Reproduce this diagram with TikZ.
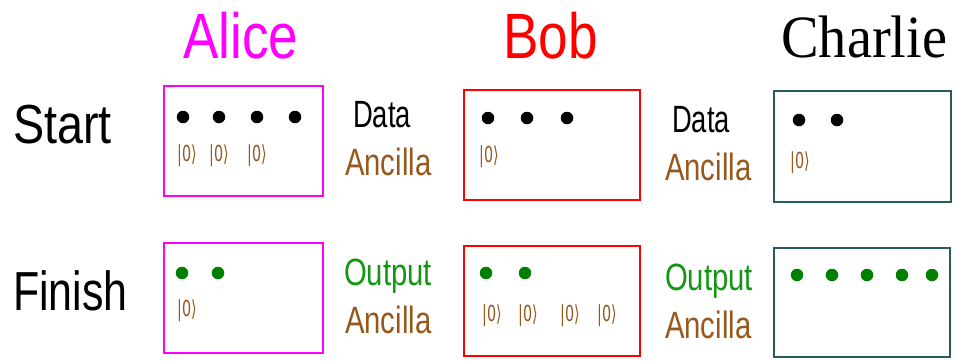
\documentclass[tikz,border=0pt]{standalone}
\usepackage{fontspec}
\setmainfont{Liberation Sans}
\newfontfamily\serifface{Liberation Serif}
\newfontfamily\ketface{DejaVu Sans}
\definecolor{alicec}{RGB}{255,0,255}
\definecolor{bobc}{RGB}{255,0,0}
\definecolor{charliec}{RGB}{40,92,92}
\definecolor{brownc}{RGB}{150,88,28}
\definecolor{outc}{RGB}{20,150,20}
\definecolor{dotg}{RGB}{0,128,0}
% \sqtext{size}{xscale}{text}: sized, horizontally narrowed text
\newcommand\sqtext[3]{\fontsize{#1}{#1}\selectfont\scalebox{#2}[1]{#3}}
\tikzset{
  lbl/.style={anchor=base west, inner sep=0pt},
  regbox/.style={draw, line width=1.6pt, rectangle, inner sep=0pt},
  qbit/.style={circle, fill, inner sep=0pt, minimum size=12.5pt},
  ket/.style={anchor=west, inner sep=0pt, text=brownc},
}
\newcommand\ketzero{\ketface\sqtext{22}{0.65}{|0⟩}}
% \register{name}{colour}{x1}{y1}{x2}{y2}
\newcommand\register[6]{%
  \node[regbox, draw=#2, minimum width={#5-#3}, minimum height={#6-#4}]
    (#1) at ({(#3+#5)/2},{(#4+#6)/2}) {};}
\begin{document}
\begin{tikzpicture}[x=1pt, y=-1pt]
\useasboundingbox (0,0) rectangle (959,360);
\fill[white] (0,0) rectangle (959,360);

% party names
\node[lbl, text=alicec] (alice) at (183,58) {\sqtext{64}{0.83}{Alice}};
\node[lbl, text=bobc] (bob) at (503,58) {\sqtext{64}{0.83}{Bob}};
\node[lbl] (charlie) at (781,57) {\serifface\sqtext{60}{0.94}{Charlie}};

% row labels
\node[lbl] (start) at (13,143) {\sqtext{55}{0.85}{Start}};
\node[lbl] (finish) at (13,310) {\sqtext{55}{0.78}{Finish}};

% registers
\register{aliceS}{alicec}{164}{86}{323}{196}
\register{aliceF}{alicec}{164}{243}{323}{353}
\register{bobS}{bobc}{464}{90}{640}{200}
\register{bobF}{bobc}{464}{246}{640}{356}
\register{charlieS}{charliec}{774}{91}{951}{202}
\register{charlieF}{charliec}{774}{248}{950}{357}

% Alice start
\foreach \x [count=\i] in {183,219,257,295}
  \node[qbit] (asd\i) at (\x,117) {};
\foreach \x [count=\i] in {177,209,247}
  \node[ket] (ask\i) at (\x,156) {\ketzero};
% Alice finish
\foreach \x [count=\i] in {182,218}
  \node[qbit, fill=dotg] (afd\i) at (\x,273) {};
\node[ket] (afk1) at (177,311) {\ketzero};

% Bob start
\foreach \x [count=\i] in {488,527,567}
  \node[qbit] (bsd\i) at (\x,118) {};
\node[ket] (bsk1) at (479,157) {\ketzero};
% Bob finish
\foreach \x [count=\i] in {486,525}
  \node[qbit, fill=dotg] (bfd\i) at (\x,273) {};
\foreach \x [count=\i] in {482,518,560,597}
  \node[ket] (bfk\i) at (\x,316) {\ketzero};

% Charlie start
\foreach \x [count=\i] in {799,837}
  \node[qbit] (csd\i) at (\x,120) {};
\node[ket] (csk1) at (790,163) {\ketzero};
% Charlie finish
\foreach \x [count=\i] in {797,832,867,902,932}
  \node[qbit, fill=dotg] (cfd\i) at (\x,275) {};

% side legends
\node[lbl] (data1) at (353,127) {\sqtext{38}{0.72}{Data}};
\node[lbl, text=brownc] (anc1) at (345,175) {\sqtext{38}{0.77}{Ancilla}};
\node[lbl] (data2) at (672,132) {\sqtext{38}{0.72}{Data}};
\node[lbl, text=brownc] (anc2) at (665,180) {\sqtext{38}{0.77}{Ancilla}};
\node[lbl, text=outc] (out1) at (344,285) {\sqtext{38}{0.77}{Output}};
\node[lbl, text=brownc] (anc3) at (345,333) {\sqtext{38}{0.77}{Ancilla}};
\node[lbl, text=outc] (out2) at (665,290) {\sqtext{38}{0.77}{Output}};
\node[lbl, text=brownc] (anc4) at (665,338) {\sqtext{38}{0.77}{Ancilla}};
\end{tikzpicture}
\end{document}
